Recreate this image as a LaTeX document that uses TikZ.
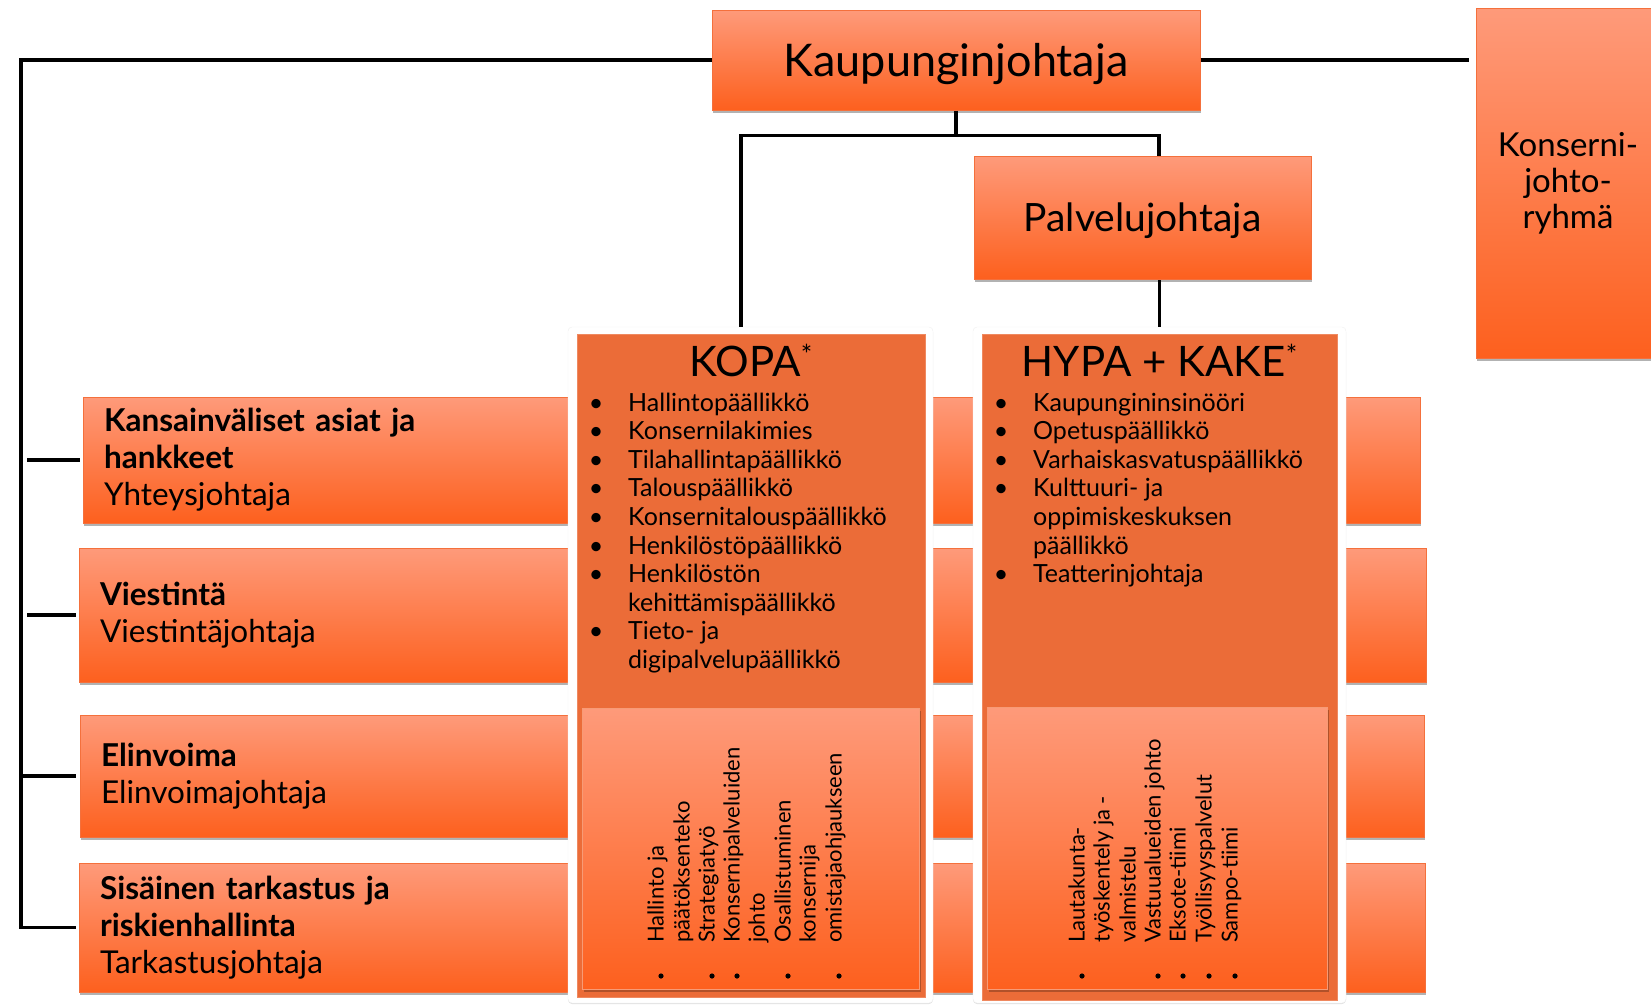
\documentclass[tikz,border=0pt]{standalone}
\usepackage{fontspec}
\setmainfont{Lato}
\usetikzlibrary{shadows,calc}

\definecolor{boxtop}{RGB}{254,154,122}
\definecolor{boxbot}{RGB}{253,96,30}
\definecolor{boxline}{RGB}{244,112,60}
\definecolor{colfill}{RGB}{235,108,56}

\tikzset{
  conn/.style={line width=3.8pt},
  sz/.style 2 args={minimum width=#1pt, minimum height=#2pt},
  box/.style={rectangle, draw=boxline, line width=1pt, top color=boxtop, bottom color=boxbot, inner sep=0pt,
    drop shadow={shadow xshift=1pt, shadow yshift=-3pt, opacity=.3, fill=black}},
  subbox/.style={rectangle, draw=boxline!70!white, line width=.8pt, top color=boxtop, bottom color=boxbot, inner sep=0pt,
    drop shadow={shadow xshift=2pt, shadow yshift=-3pt, opacity=.45, fill=black!55!colfill}},
  frame/.style={rectangle, fill=white, draw=black!6, rounded corners=4pt,
    drop shadow={shadow xshift=0pt, shadow yshift=-1pt, opacity=.12, fill=black}},
  col/.style={rectangle, fill=colfill, draw=colfill!80!white, line width=.8pt},
  unit/.style={box, align=left, inner xsep=21pt, font=\fontsize{31.5}{37}\selectfont},
  title/.style={font=\fontsize{42}{46}\selectfont, anchor=base, inner sep=0pt},
  item/.style={font=\fontsize{25}{28}\selectfont, anchor=base west, inner sep=0pt},
  blt/.style={font=\fontsize{25}{28}\selectfont, anchor=base, inner sep=0pt},
  vtext/.style={font=\fontsize{22}{24}\selectfont, rotate=90, anchor=mid west, inner sep=0pt},
}
\newcommand{\asterisknote}{\raisebox{12pt}{\fontsize{27}{27}\selectfont*}}

\begin{document}
\begin{tikzpicture}[x=1pt, y=-1pt]
    \useasboundingbox (0,0) rectangle (1651,1004);
    % top:
    \node[box, sz={488}{100}, font=\fontsize{45}{50}\selectfont, text height=32pt, text depth=0pt] (kj) at (956,60) {Kaupunginjohtaja};
    \node[box, sz={337}{123}, font=\fontsize{39}{44}\selectfont, text height=28pt, text depth=0pt] (pj) at (1142.5,217.5) {Palvelujohtaja};
    \node[box, sz={184}{350}, align=center, font=\fontsize{33}{36}\selectfont] (kjr) at (1568,183) {Konserni-\\johto-\\ryhmä};
    % units on the left:
    \node[unit, sz={1337}{126}, text width=1295pt] (r1) at (751.5,460) {\textbf{Kansainväliset asiat ja}\\\textbf{hankkeet}\\Yhteysjohtaja};
    \node[unit, sz={1347}{134}, text width=1305pt] (r2) at (752.5,615) {\textbf{Viestintä}\\Viestintäjohtaja};
    \node[unit, sz={1344}{122}, text width=1302pt] (r3) at (752,776) {\textbf{Elinvoima}\\Elinvoimajohtaja};
    \node[unit, sz={1346}{129}, text width=1304pt] (r4) at (752,927.5) {\textbf{Sisäinen tarkastus ja}\\\textbf{riskienhallinta}\\Tarkastusjohtaja};
    % KOPA:
    \node[frame, sz={365}{676}] (kopaf) at (750.5,665) {};
    \node[col, sz={348}{663}] (kopa) at (751,665.5) {};
    \node[subbox, sz={337}{281}] (kopas) at (750.5,848.5) {};
    \node[title] (kopa-t) at ([yshift=-43pt]kopa.north) {KOPA\asterisknote};
    \foreach \b/\t [count=\i] in {1/Hallintopäällikkö, 1/Konsernilakimies, 1/Tilahallintapäällikkö, 1/Talouspäällikkö,
        1/Konsernitalouspäällikkö, 1/Henkilöstöpäällikkö, 1/Henkilöstön, 0/kehittämispäällikkö, 1/Tieto- ja, 0/digipalvelupäällikkö}{
      \node[item] (kopa-l\i) at (628,{411+28.6*(\i-1)}) {\t};
      \ifnum\b=1 \node[blt] (kopa-b\i) at (596,{411+28.6*(\i-1)}) {\textbullet}; \fi
    }
    \foreach \x/\b/\t [count=\i] in {661/1/Hallinto ja, 687/0/päätöksenteko, 712/1/Strategiatyö, 737/1/Konsernipalveluiden,
        762/0/johto, 788/1/Osallistuminen, 813/0/konsernija, 839/1/omistajaohjaukseen}{
      \node[vtext] (kopa-v\i) at (\x,943) {\t};
      \ifnum\b=1 \fill (\x,976) circle (2.6pt); \fi
    }
    % HYPA + KAKE:
    \node[frame, sz={373}{676}] (hypaf) at (1159.5,665) {};
    \node[col, sz={355}{666}] (hypa) at (1159.5,667) {};
    \node[subbox, sz={340}{282}] (hypas) at (1157,848) {};
    \node[title] (hypa-t) at ([yshift=-43pt]hypa.north) {HYPA + KAKE\asterisknote};
    \foreach \b/\t [count=\i] in {1/Kaupungininsinööri, 1/Opetuspäällikkö, 1/Varhaiskasvatuspäällikkö, 1/Kulttuuri- ja,
        0/oppimiskeskuksen, 0/päällikkö, 1/Teatterinjohtaja}{
      \node[item] (hypa-l\i) at (1033,{411+28.6*(\i-1)}) {\t};
      \ifnum\b=1 \node[blt] (hypa-b\i) at (1001,{411+28.6*(\i-1)}) {\textbullet}; \fi
    }
    \foreach \x/\b/\t [count=\i] in {1082/1/Lautakunta-, 1107/0/työskentely ja -, 1133/0/valmistelu, 1158/1/Vastuualueiden johto,
        1183/1/Eksote-tiimi, 1209/1/Työllisyyspalvelut, 1235/1/Sampo-tiimi}{
      \node[vtext] (hypa-v\i) at (\x,943) {\t};
      \ifnum\b=1 \fill (\x,976) circle (2.6pt); \fi
    }
    % lines to the left:
    \coordinate (spine) at (21,0);
    \draw[conn] (kj.west) -| (spine |- r4.west) -- ([xshift=-3pt]r4.west);
    \draw[conn] (spine |- r3.west) -- ([xshift=-4pt]r3.west);
    \draw[conn] ([xshift=6pt]spine |- r2.west) -- ([xshift=-3pt]r2.west);
    \draw[conn] ([xshift=6pt]spine |- r1.west) -- ([xshift=-3pt]r1.west);
    % line to the right:
    \draw[conn] (kj.east) -- ($(kj.east -| kjr.west)+(-7,0)$);
    % lines down:
    \draw[conn] (kj.south) -- ++(0,25) coordinate (fork);
    \draw[conn] ([xshift=-9.5pt]kopaf.north) |- (fork) -| ([xshift=16.5pt]pj.north);
    \draw[conn] (hypaf.north) -- (hypaf.north |- pj.south);
\end{tikzpicture}
\end{document}
